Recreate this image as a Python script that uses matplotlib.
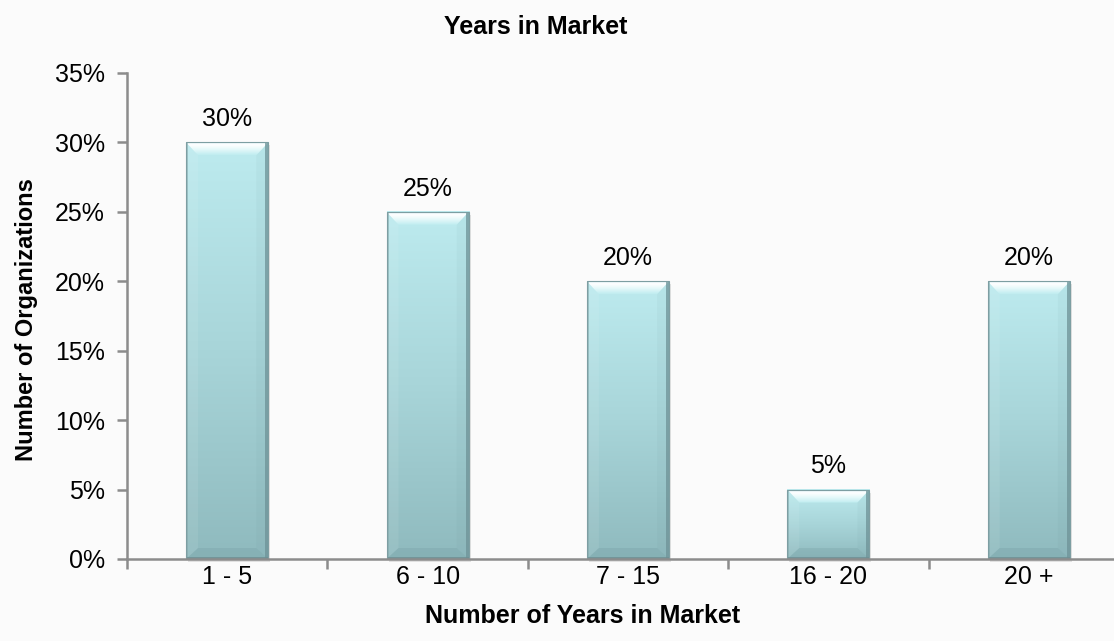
import numpy as np
import matplotlib
matplotlib.use("Agg")
import matplotlib.pyplot as plt
from matplotlib.colors import LinearSegmentedColormap
from matplotlib.patches import Polygon, Rectangle
from matplotlib.ticker import FuncFormatter

plt.rcParams['font.family'] = ['Liberation Sans', 'DejaVu Sans']

categories = ["1 - 5", "6 - 10", "7 - 15", "16 - 20", "20 +"]
shares = [0.30, 0.25, 0.20, 0.05, 0.20]
yticks = [0.0, 0.05, 0.10, 0.15, 0.20, 0.25, 0.30, 0.35]

W, H = 1114, 641
fig = plt.figure(figsize=(W / 100, H / 100), dpi=100, facecolor="#fbfbfb")

# axes box in pixels: left 127, right 1129 (runs past the edge), bottom 559, top 73
ax_l, ax_r, ax_b, ax_t = 127, 1129, 559, 73
ax = fig.add_axes([ax_l / W, 1 - ax_b / H, (ax_r - ax_l) / W, (ax_b - ax_t) / H])
ax.set_facecolor("none")
ax.set_xlim(-0.5, len(categories) - 0.5)
ax.set_ylim(0, 0.35)

px_x = len(categories) / (ax_r - ax_l)
px_y = 0.35 / (ax_b - ax_t)

body = LinearSegmentedColormap.from_list("body", ["#8fbabe", "#a8d5d9", "#bdebef"])
cap = LinearSegmentedColormap.from_list(
    "cap", [(0.0, "#bfecf0"), (0.45, "#e6f9fa"), (0.8, "#ffffff"), (1.0, "#dff4f6")])
bar_w = 0.41
grad = np.linspace(0, 1, 256).reshape(-1, 1)

for i, v in enumerate(shares):
    x0, x1 = i - bar_w / 2, i + bar_w / 2
    # soft shadow to the lower right
    ax.add_patch(Rectangle((x0 + 2 * px_x, -3 * px_y), x1 - x0, v, facecolor="#000000",
                           alpha=0.10, edgecolor="none", zorder=2, clip_on=False))
    ax.imshow(grad, extent=[x0, x1, 0, v], origin="lower", aspect="auto",
              cmap=body, interpolation="bilinear", zorder=3)
    bx = 12 * px_x
    by = min(13 * px_y, v / 3)
    bbx = 12 * px_x
    bby = min(11 * px_y, v / 4)
    # top bevel with its own light gradient
    top_poly = Polygon([(x0, v), (x1, v), (x1 - bx, v - by), (x0 + bx, v - by)], closed=True,
                       facecolor="none", edgecolor="none", zorder=4)
    ax.add_patch(top_poly)
    im = ax.imshow(grad, extent=[x0, x1, v - by, v], origin="lower", aspect="auto",
                   cmap=cap, interpolation="bilinear", zorder=4)
    im.set_clip_path(top_poly)
    # side bevels
    ax.add_patch(Polygon([(x0, 0), (x0 + bbx, bby), (x0 + bx, v - by), (x0, v)],
                         closed=True, facecolor="#ffffff", edgecolor="none", alpha=0.08, zorder=4))
    ax.add_patch(Polygon([(x1, 0), (x1 - bbx, bby), (x1 - bx, v - by), (x1, v)],
                         closed=True, facecolor="#5f878c", edgecolor="none", alpha=0.06, zorder=4))
    # bottom bevel
    ax.add_patch(Polygon([(x0, 0), (x1, 0), (x1 - bbx, bby), (x0 + bbx, bby)],
                         closed=True, facecolor="#6f979c", edgecolor="none", alpha=0.25, zorder=4))
    # thin edge strips
    ax.add_patch(Rectangle((x1 - 3 * px_x, 0), 3 * px_x, v, facecolor="#6e9297",
                           edgecolor="none", alpha=0.75, zorder=5))
    ax.add_patch(Rectangle((x0, 0), 2 * px_x, v, facecolor="#86a9ad",
                           edgecolor="none", alpha=0.6, zorder=5))
    ax.add_patch(Rectangle((x0, 0), x1 - x0, 2 * px_y, facecolor="#6f8f93",
                           edgecolor="none", alpha=0.8, zorder=5))
    ax.add_patch(Rectangle((x0, 0), x1 - x0, v, facecolor="none", edgecolor="#7d9ea2",
                           linewidth=0.8, zorder=5))
    ax.annotate(f"{v * 100:.0f}%", (i, v), xytext=(0, 8), textcoords="offset points",
                ha="center", va="bottom", fontsize=18, color="#000000")

ax.set_xticks(np.arange(len(categories)) - 0.5, minor=False)
ax.set_xticklabels([])
ax.set_xticks(np.arange(len(categories)), minor=True)
ax.set_xticklabels(categories, minor=True, fontsize=18)
ax.tick_params(axis="x", which="major", length=7, width=1.8, color="#8c8c8c", direction="out")
ax.tick_params(axis="x", which="minor", length=0, pad=4)

ax.set_yticks(yticks)
ax.yaxis.set_major_formatter(FuncFormatter(lambda y, _: f"{y * 100:.0f}%"))
ax.tick_params(axis="y", length=7, width=1.8, color="#8c8c8c", labelsize=18, pad=9)

for side in ["top", "right"]:
    ax.spines[side].set_visible(False)
for side in ["left", "bottom"]:
    ax.spines[side].set_color("#8c8c8c")
    ax.spines[side].set_linewidth(1.8)
    ax.spines[side].set_zorder(6)

fig.text(536 / W, 1 - 27 / H, "Years in Market", ha="center", va="center",
         fontsize=18, fontweight="bold")
fig.text(583 / W, 1 - 616 / H, "Number of Years in Market", ha="center", va="center",
         fontsize=18, fontweight="bold")
fig.text(27 / W, 1 - 320 / H, "Number of Organizations", ha="center", va="center",
         rotation=90, fontsize=17, fontweight="bold")

fig.savefig("out.png", dpi=100, facecolor=fig.get_facecolor())
